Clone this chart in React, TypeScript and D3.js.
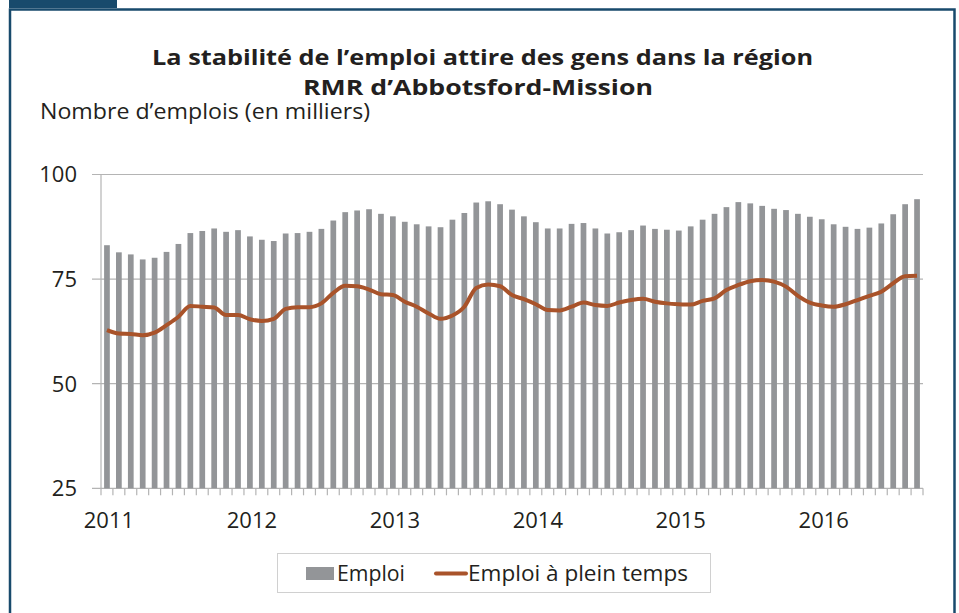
import { useEffect, useRef } from 'react';
import { scaleBand, scaleLinear, select, line, curveMonotoneX, range } from 'd3';

// mois de janvier 2011 a septembre 2016
const years = ['2011', '2012', '2013', '2014', '2015', '2016'];
const months = range(69).map(i => `${years[Math.floor(i / 12)]}-${(i % 12) + 1}`);

const emploi = [
  83.1, 81.4, 80.9, 79.7, 80.1, 81.5, 83.4, 86.0, 86.5, 87.1, 86.3, 86.7,
  85.2, 84.4, 84.1, 85.9, 86.0, 86.3, 87.0, 89.0, 91.0, 91.4, 91.7, 90.6,
  90.0, 88.7, 88.1, 87.6, 87.4, 89.2, 90.8, 93.3, 93.6, 92.9, 91.6, 90.0,
  88.6, 87.1, 87.1, 88.2, 88.4, 87.1, 85.9, 86.2, 86.7, 87.8, 87.0, 86.8,
  86.6, 87.6, 89.2, 90.6, 92.2, 93.4, 93.1, 92.5, 91.8, 91.5, 90.6, 89.9,
  89.3, 88.1, 87.5, 87.0, 87.3, 88.3, 90.5, 92.9, 94.1
];

const pleinTemps = [
  62.8, 62.0, 61.9, 61.6, 62.2, 64.0, 66.0, 68.6, 68.4, 68.2, 66.4, 66.4,
  65.4, 65.0, 65.5, 67.9, 68.3, 68.3, 69.2, 71.7, 73.4, 73.3, 72.5, 71.4,
  71.2, 69.6, 68.4, 66.8, 65.5, 66.3, 68.4, 72.9, 73.7, 73.3, 71.2, 70.2,
  69.0, 67.6, 67.5, 68.4, 69.4, 68.8, 68.6, 69.4, 70.0, 70.3, 69.6, 69.2,
  69.0, 68.9, 69.8, 70.4, 72.4, 73.6, 74.5, 74.8, 74.4, 73.2, 71.0, 69.4,
  68.7, 68.4, 69.0, 70.0, 71.0, 72.0, 74.0, 75.7, 75.8
];

const yTicks = [25, 50, 75, 100];

const font = '"Open Sans", Lato, sans-serif';
const blue = '#184a6c';
const ink = '#231f20';
const barColor = '#939598';
const lineColor = '#a9532a';

export default function App() {
  const width = 959;
  const height = 613;
  const margin = { top: 174.5, right: 923, bottom: 488.3, left: 101 };

  const svgRef = useRef(null);

  const xScale = scaleBand()
    .domain(months)
    .range([margin.left, margin.right])
    .paddingInner(0.52)
    .paddingOuter(0.26);
  const yScale = scaleLinear()
    .domain([25, 100])
    .range([margin.bottom, margin.top]);

  useEffect(() => {
    const svg = select(svgRef.current);
    svg.selectAll('*').remove();

    const label = (sel, x, y, size, txt, len, anchor = 'start', weight = 'normal') => {
      const t = sel.append('text')
        .attr('x', x).attr('y', y)
        .attr('text-anchor', anchor)
        .attr('font-family', font).attr('font-size', size).attr('font-weight', weight)
        .attr('fill', ink)
        .text(txt);
      if (len) t.attr('textLength', len).attr('lengthAdjust', 'spacingAndGlyphs');
      return t;
    };

    // cadre
    svg.append('rect').attr('x', 9).attr('y', 0).attr('width', 108).attr('height', 8).attr('fill', blue);
    svg.append('path')
      .attr('d', `M10,${height} L10,9.5 L954.5,9.5 L954.5,${height}`)
      .attr('fill', 'none')
      .attr('stroke', blue)
      .attr('stroke-width', 2.5);

    // titres
    label(svg, 482.5, 65, 22, 'La stabilité de l’emploi attire des gens dans la région', 661, 'middle', 'bold');
    label(svg, 478, 95, 22, 'RMR d’Abbotsford-Mission', 350, 'middle', 'bold');
    label(svg, 40, 119, 22, 'Nombre d’emplois (en milliers)', 330);

    // grille
    const g = svg.append('g');
    g.selectAll('.grid')
      .data(yTicks)
      .join('line')
      .attr('x1', 92).attr('x2', margin.right)
      .attr('y1', d => yScale(d)).attr('y2', d => yScale(d))
      .attr('stroke', '#b4b4b4').attr('stroke-width', 1.2);
    g.selectAll('.ylab')
      .data(yTicks)
      .join('text')
      .attr('x', 77).attr('y', d => yScale(d))
      .attr('dy', '0.36em')
      .attr('text-anchor', 'end')
      .attr('font-family', font).attr('font-size', 22)
      .attr('fill', ink)
      .text(d => d);

    // barres
    g.selectAll('.bar')
      .data(emploi)
      .join('rect')
      .attr('x', (d, i) => xScale(months[i]))
      .attr('y', d => yScale(d))
      .attr('width', xScale.bandwidth())
      .attr('height', d => yScale(25) - yScale(d))
      .attr('fill', barColor);

    // axes
    g.append('line')
      .attr('x1', margin.left).attr('x2', margin.left)
      .attr('y1', margin.top).attr('y2', margin.bottom)
      .attr('stroke', '#b4b4b4').attr('stroke-width', 1.2);
    const step = xScale.step();
    const x0 = xScale(months[0]) - step * xScale.paddingOuter();
    g.selectAll('.xtick')
      .data(range(months.length + 1))
      .join('line')
      .attr('x1', i => x0 + i * step).attr('x2', i => x0 + i * step)
      .attr('y1', margin.bottom).attr('y2', margin.bottom + 7)
      .attr('stroke', '#b4b4b4').attr('stroke-width', 1.2);
    g.selectAll('.xlab')
      .data(years)
      .join('text')
      .attr('x', (d, i) => xScale(months[i * 12]) + xScale.bandwidth() / 2 + 2)
      .attr('y', 528)
      .attr('text-anchor', 'middle')
      .attr('font-family', font).attr('font-size', 22)
      .attr('fill', ink)
      .text(d => d);

    // ligne plein temps
    const path = line()
      .x((d, i) => xScale(months[i]) + xScale.bandwidth() / 2)
      .y(d => yScale(d))
      .curve(curveMonotoneX);
    g.append('path')
      .datum(pleinTemps)
      .attr('d', path)
      .attr('fill', 'none')
      .attr('stroke', lineColor)
      .attr('stroke-width', 4)
      .attr('stroke-linejoin', 'round');

    // legende
    const lg = svg.append('g');
    lg.append('rect')
      .attr('x', 277.5).attr('y', 553.5).attr('width', 433).attr('height', 39)
      .attr('fill', 'white').attr('stroke', '#d0d0d0');
    lg.append('rect')
      .attr('x', 306).attr('y', 567).attr('width', 28).attr('height', 13)
      .attr('fill', barColor);
    label(lg, 337, 581, 22, 'Emploi', 68);
    lg.append('line')
      .attr('x1', 436).attr('x2', 466).attr('y1', 573.5).attr('y2', 573.5)
      .attr('stroke', lineColor).attr('stroke-width', 4).attr('stroke-linecap', 'round');
    label(lg, 468, 581, 22, 'Emploi à plein temps', 220);
  }, []);

  return (
    <svg
      ref={svgRef}
      width={width}
      height={height}
      style={{ position: 'absolute', left: 0, top: 0, background: 'white' }}
    />
  );
}
